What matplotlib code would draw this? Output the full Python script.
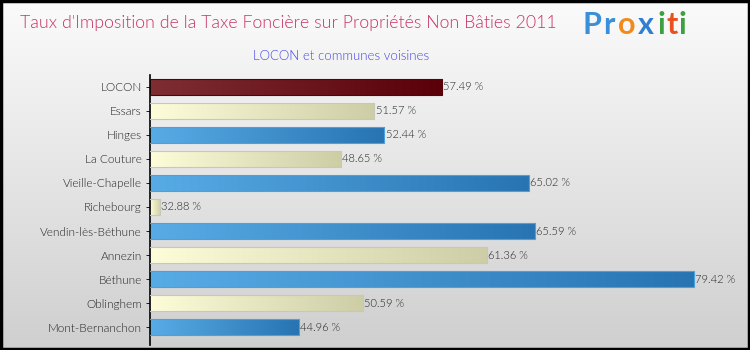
import numpy as np
import matplotlib
matplotlib.use("Agg")
import matplotlib.pyplot as plt
from matplotlib.colors import LinearSegmentedColormap

communes = ["LOCON", "Essars", "Hinges", "La Couture", "Vieille-Chapelle", "Richebourg",
            "Vendin-lès-Béthune", "Annezin", "Béthune", "Oblinghem", "Mont-Bernanchon"]
taux = [57.49, 51.57, 52.44, 48.65, 65.02, 32.88, 65.59, 61.36, 79.42, 50.59, 44.96]
styles = ["main", "cream", "blue", "cream", "blue", "cream", "blue", "cream", "blue", "cream", "blue"]
labels = ["57.49 %", "51.57 %", "52.44 %", "48.65 %", "65.02 %", "32.88 %",
          "65.59 %", "61.36 %", "79.42 %", "50.59 %", "44.96 %"]

grads = {
    "main": ("#7e2e32", "#5a0009", "#5a0009"),
    "blue": ("#58ace6", "#2874b2", "#4aa0e0"),
    "cream": ("#fdfdda", "#cdcda6", "#c8c8b8"),
}

plt.rcParams['font.family'] = ['Lato', 'DejaVu Sans']
W = 300
fig = plt.figure(figsize=(7.5, 3.5), dpi=100)

# background gradient
bg = fig.add_axes([0, 0, 1, 1])
bg.set_axis_off()
g = np.linspace(0, 1, 256).reshape(-1, 1)
bgcmap = LinearSegmentedColormap.from_list("bg", ["#fbfbfb", "#cfcfcf"])
bg.imshow(g, aspect="auto", cmap=bgcmap, extent=[0, 1, 0, 1], origin="upper")
bg.set_xlim(0, 1); bg.set_ylim(0, 1)
bg.add_patch(plt.Rectangle((0.001, 0.002), 0.997, 0.995, fill=False, edgecolor="black", lw=2.5,
                           transform=bg.transAxes))

ax = fig.add_axes([0.2, 0.014, 0.795, 0.772])
ax.patch.set_alpha(0)
y = np.arange(len(communes))
bars = ax.barh(y, taux, height=0.7, left=0, color="none", linewidth=0.8)
xmin, xmax = 32.0, 84.0
grad = np.linspace(0, 1, 256).reshape(1, -1)
for b, s in zip(bars, styles):
    c0, c1, ec = grads[s]
    cmap = LinearSegmentedColormap.from_list(s, [c0, c1])
    x0 = xmin
    x1 = b.get_width()
    yb = b.get_y()
    h = b.get_height()
    im = ax.imshow(grad, aspect="auto", cmap=cmap, extent=[x0, x1, yb + h, yb],
                   zorder=2, interpolation="bilinear")
    b.set_edgecolor(ec)
    b.set_zorder(3)
    im.set_clip_path(b)

for yi, v, lab in zip(y, taux, labels):
    ax.text(v + 0.1, yi, lab, va="center", ha="left", fontsize=8, color="#222222",
            fontweight=W, zorder=4)

ax.set_xlim(xmin, xmax)
ax.set_ylim(10.75, -0.5)
ax.set_yticks(y)
ax.set_yticklabels(communes, fontsize=8.5, color="#222222", fontweight=W)
ax.tick_params(axis="y", length=3, width=0.6, pad=3)
ax.set_xticks([])
for sp in ["top", "right", "bottom"]:
    ax.spines[sp].set_visible(False)
ax.spines["left"].set_linewidth(1.2)

fig.text(0.026, 0.935, "Taux d'Imposition de la Taxe Foncière sur Propriétés Non Bâties 2011",
         fontsize=12.8, color="#c83468", ha="left", va="center", fontweight=W)
fig.text(0.455, 0.84, "LOCON et communes voisines", fontsize=9.5, color="#4646e6",
         ha="center", va="center", fontweight=W)

# logo
logo = [("P", "#3a8fd8"), ("r", "#3a8fd8"), ("o", "#f08a1c"), ("x", "#2f7fd0"),
        ("i", "#3aa040"), ("t", "#e85020"), ("i", "#40a040")]
widths = {"P": 0.027, "r": 0.02, "o": 0.026, "x": 0.027, "i": 0.012, "t": 0.016}
xpos = 0.777
for ch, col in logo:
    fig.text(xpos, 0.93, ch, fontsize=22, color=col, fontweight="bold", ha="left", va="center")
    xpos += widths[ch]

fig.savefig("out.png", dpi=100)
